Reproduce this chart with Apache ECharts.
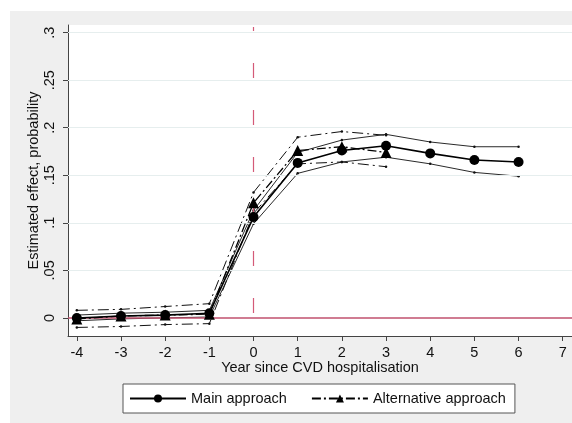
<!DOCTYPE html>
<html>
<head>
<meta charset="utf-8">
<script src="https://cdn.jsdelivr.net/npm/echarts@6/dist/echarts.min.js"></script>
<style>
  html, body { margin: 0; padding: 0; background: #ffffff; }
  #wrap { position: relative; width: 572px; height: 423px; background: #ffffff; overflow: hidden; }
  #chart { position: absolute; left: 10px; top: 11px; width: 562px; height: 412px; }
</style>
</head>
<body>
<div id="wrap"><div id="chart"></div></div>
<script>
// Years relative to the CVD hospitalisation
const mainYears = [-4, -3, -2, -1, 0, 1, 2, 3, 4, 5, 6];
const altYears = [-4, -3, -2, -1, 0, 1, 2, 3];

// Main approach: point estimate and 95% confidence bounds
const mainEst = [0.000, 0.002, 0.003, 0.005, 0.106, 0.163, 0.176, 0.181, 0.173, 0.166, 0.164];
const mainLo  = [-0.003, -0.001, 0.000, 0.001, 0.099, 0.152, 0.164, 0.169, 0.162, 0.153, 0.149];
const mainHi  = [0.003, 0.005, 0.006, 0.008, 0.113, 0.174, 0.187, 0.193, 0.185, 0.180, 0.180];

// Alternative approach: point estimate and 95% confidence bounds
const altEst = [-0.001, 0.002, 0.003, 0.004, 0.121, 0.176, 0.180, 0.174];
const altLo  = [-0.010, -0.009, -0.007, -0.006, 0.110, 0.162, 0.164, 0.159];
const altHi  = [0.008, 0.009, 0.012, 0.015, 0.132, 0.190, 0.196, 0.192];

// Axis ticks and their labels
const yTicks = [0, 0.05, 0.1, 0.15, 0.2, 0.25, 0.3];
const yTickLabels = ['0', '.05', '.1', '.15', '.2', '.25', '.3'];
const xTicks = [-4, -3, -2, -1, 0, 1, 2, 3, 4, 5, 6, 7];

const FONT = '"Liberation Sans", Arial, Helvetica, sans-serif';
const FS = 14.5;
const pair = (xs, ys) => xs.map((x, i) => [x, ys[i]]);

const chart = echarts.init(document.getElementById('chart'), null, { renderer: 'canvas' });

const ciStyle = (type, width) => ({
  type: 'line',
  symbol: 'circle',
  symbolSize: 2.5,
  itemStyle: { color: '#111' },
  lineStyle: { color: '#111', width: width, type: type },
  silent: true,
  z: 3
});

chart.setOption({
  backgroundColor: '#efefef',
  animation: false,
  textStyle: { fontFamily: FONT },
  grid: { left: 58, top: 14, right: 0, bottom: 87, show: true, backgroundColor: '#ffffff', borderWidth: 0 },
  legend: {
    data: ['Main approach', 'Alternative approach'],
    left: 113,
    top: 373,
    orient: 'horizontal',
    padding: [7, 9, 7, 6],
    itemGap: 24,
    itemWidth: 56,
    itemHeight: 10,
    backgroundColor: '#ffffff',
    borderColor: '#555555',
    borderWidth: 1,
    borderRadius: 0,
    selectedMode: false,
    textStyle: { fontFamily: FONT, fontSize: FS, color: '#111' }
  },
  xAxis: {
    type: 'value',
    min: -4.2,
    max: 7.21,
    name: 'Year since CVD hospitalisation',
    nameLocation: 'middle',
    nameGap: 24,
    nameMoveOverlap: false,
    nameTextStyle: { fontFamily: FONT, fontSize: FS, color: '#111' },
    axisLine: { show: true, onZero: false, lineStyle: { color: '#444', width: 1 } },
    axisTick: { show: true, length: 5, customValues: xTicks, lineStyle: { color: '#444' } },
    axisLabel: { customValues: xTicks, margin: 9, fontFamily: FONT, fontSize: FS, color: '#111',
                 formatter: v => String(v) },
    splitLine: { show: false }
  },
  yAxis: {
    type: 'value',
    min: -0.019,
    max: 0.308,
    name: 'Estimated effect, probability',
    nameLocation: 'middle',
    nameRotate: 90,
    nameGap: 27,
    nameMoveOverlap: false,
    nameTextStyle: { fontFamily: FONT, fontSize: FS, color: '#111' },
    axisLine: { show: true, onZero: false, lineStyle: { color: '#444', width: 1 } },
    axisTick: { show: true, length: 5, customValues: yTicks, lineStyle: { color: '#444' } },
    axisLabel: {
      customValues: yTicks, rotate: 90, margin: 11, fontFamily: FONT, fontSize: FS, color: '#111',
      formatter: v => {
        const i = yTicks.findIndex(t => Math.abs(t - v) < 1e-9);
        return i >= 0 ? yTickLabels[i] : '';
      }
    },
    splitLine: { show: false }
  },
  series: [
    // Horizontal gridlines and the zero reference line
    {
      type: 'line',
      data: [],
      silent: true,
      z: 1,
      markLine: {
        silent: true,
        symbol: ['none', 'none'],
        label: { show: false },
        animation: false,
        data: yTicks.filter(v => v !== 0).map(v => ({
          yAxis: v, lineStyle: { color: '#e6eeee', width: 1, type: 'solid' }
        })).concat([
          { yAxis: 0, lineStyle: { color: '#c0506e', width: 1.5, type: 'solid' } }
        ])
      }
    },
    // Dashed marker at the hospitalisation year
    {
      type: 'line',
      data: [],
      silent: true,
      z: 2,
      markLine: {
        silent: true,
        symbol: ['none', 'none'],
        label: { show: false },
        animation: false,
        lineStyle: { color: '#d45a78', width: 1.2, type: [15, 32], dashOffset: 42, opacity: 1 },
        data: [[{ coord: [0, 0] }, { coord: [0, 0.306] }]]
      }
    },
    Object.assign(ciStyle('solid', 0.9), { name: 'Main CI low', data: pair(mainYears, mainLo) }),
    Object.assign(ciStyle('solid', 0.9), { name: 'Main CI high', data: pair(mainYears, mainHi) }),
    Object.assign(ciStyle([11, 4, 2, 4], 1), { name: 'Alt CI low', data: pair(altYears, altLo) }),
    Object.assign(ciStyle([11, 4, 2, 4], 1), { name: 'Alt CI high', data: pair(altYears, altHi) }),
    {
      name: 'Alternative approach',
      type: 'line',
      data: pair(altYears, altEst),
      symbol: 'triangle',
      symbolSize: 11,
      itemStyle: { color: '#000' },
      lineStyle: { color: '#000', width: 1.3, type: [9, 3, 2, 3] },
      z: 5
    },
    {
      name: 'Main approach',
      type: 'line',
      data: pair(mainYears, mainEst),
      symbol: 'circle',
      symbolSize: 10,
      itemStyle: { color: '#000' },
      lineStyle: { color: '#000', width: 1.6, type: 'solid' },
      z: 6
    }
  ]
});
</script>
</body>
</html>
